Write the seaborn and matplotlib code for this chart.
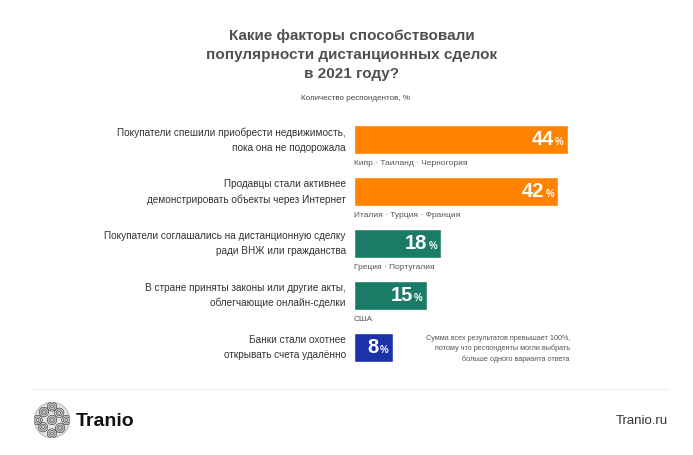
import pandas as pd
import numpy as np
import matplotlib
matplotlib.use("Agg")
import matplotlib.pyplot as plt
from matplotlib.patches import Circle, Arc
import seaborn as sns

# Data
factors = [
    "Покупатели спешили приобрести недвижимость,\nпока она не подорожала",
    "Продавцы стали активнее\nдемонстрировать объекты через Интернет",
    "Покупатели соглашались на дистанционную сделку\nради ВНЖ или гражданства",
    "В стране приняты законы или другие акты,\nоблегчающие онлайн-сделки",
    "Банки стали охотнее\nоткрывать счета удалённо",
]
shares = [44, 42, 18, 15, 8]
countries = [
    "Кипр · Таиланд · Черногория",
    "Италия · Турция · Франция",
    "Греция · Португалия",
    "США",
    "",
]
bar_colors = ["#FF8200", "#FF8200", "#1A7B66", "#1A7B66", "#1C32A8"]

df = pd.DataFrame({"factor": factors, "share": shares})

sns.set_style("white")
plt.rcParams["font.family"] = ["Liberation Sans", "DejaVu Sans"]

W, H = 693, 455
fig = plt.figure(figsize=(W / 100, H / 100), dpi=100)

# axes: x from 354 px, 4.86 px per unit; rows spaced ~52 px
ax_left, ax_top = 354, 114
ax_w, ax_h = 50 * 4.86, 5 * 51.9
ax = fig.add_axes([ax_left / W, 1 - (ax_top + ax_h) / H, ax_w / W, ax_h / H])

sns.barplot(data=df, x="share", y="factor", hue="factor", palette=bar_colors,
            legend=False, width=0.56, ax=ax, saturation=1)
ax.set_xlim(0, 50)
ax.set_ylim(4.5, -0.5)
ax.axis("off")

for i, (v, c) in enumerate(zip(shares, countries)):
    # value label inside bar
    ax.annotate("%", xy=(v, i), xytext=(-3, -1.5), textcoords="offset points",
                ha="right", va="center", color="white", fontsize=7, fontweight="bold")
    ax.annotate(str(v), xy=(v, i), xytext=(-10, 0), textcoords="offset points",
                ha="right", va="center", color="white", fontsize=14.5, fontweight="bold")
    # factor label left of bar
    ax.annotate(factors[i], xy=(0, i), xytext=(-6, 0), textcoords="offset points",
                ha="right", va="center", color="#333333", fontsize=7.2, linespacing=1.6)
    # countries under bar
    if c:
        ax.annotate(c, xy=(0, i + 0.28), xytext=(0, -4), textcoords="offset points",
                    ha="left", va="top", color="#555555", fontsize=6)

# title and subtitle
fig.text(352 / W, 1 - 55 / H, "Какие факторы способствовали\nпопулярности дистанционных сделок\nв 2021 году?",
         ha="center", va="center", fontsize=11, fontweight="bold", color="#505050", linespacing=1.45)
fig.text(355 / W, 1 - 99 / H, "Количество респондентов, %", ha="center", va="center",
         fontsize=5.8, color="#444444")

# note
fig.text(570 / W, 1 - 349 / H,
         "Сумма всех результатов превышает 100%,\nпотому что респонденты могли выбрать\nбольше одного варианта ответа",
         ha="right", va="center", fontsize=5.2, color="#555555", linespacing=1.5)

# footer
fig.add_artist(plt.Line2D([30 / W, 668 / W], [1 - 389 / H, 1 - 389 / H], color="#eeeeee", lw=0.8))
fig.text(76 / W, 1 - 421 / H, "Tranio", ha="left", va="center", fontsize=14,
         fontweight="bold", color="#111111")
fig.text(668 / W, 1 - 421 / H, "Tranio.ru", ha="right", va="center", fontsize=9.5,
         color="#333333")

# logo: circle with swirl rings
lax = fig.add_axes([34 / W, 1 - 438 / H, 36 / W, 36 / H])
lax.set_xlim(-1, 1)
lax.set_ylim(-1, 1)
lax.set_aspect("equal")
lax.axis("off")
lax.add_patch(Circle((0, 0), 0.98, color="#e4e4e4"))
centers = [(-0.45, 0.45), (0.4, 0.4), (0.0, 0.0), (-0.5, -0.4), (0.45, -0.45),
           (0.0, 0.75), (-0.8, 0.0), (0.8, 0.0), (0.0, -0.75)]
for cx, cy in centers:
    for r in [0.08, 0.17, 0.26]:
        lax.add_patch(Arc((cx, cy), 2 * r, 2 * r, color="#333333", lw=0.45))
lax.add_patch(Circle((0, 0), 0.98, fill=False, color="#999999", lw=0.4))

fig.savefig("out.png", dpi=100, facecolor="white")
